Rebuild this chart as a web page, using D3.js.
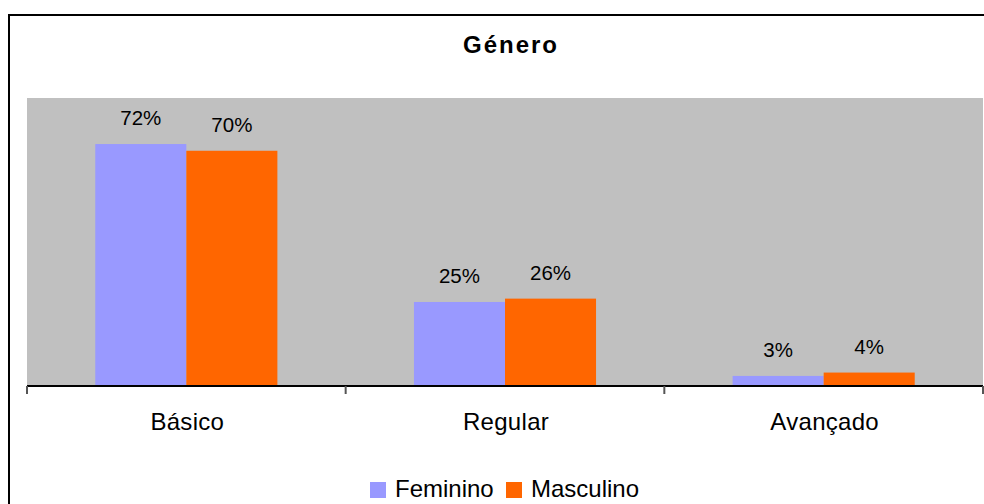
<!DOCTYPE html>
<html>
<head>
<meta charset="utf-8">
<script src="https://cdn.jsdelivr.net/npm/d3@7"></script>
<style>
  html, body { margin: 0; padding: 0; background: #fff; }
  svg { display: block; font-family: "Liberation Sans", Arial, sans-serif; }
</style>
</head>
<body>
<svg id="chart" width="984" height="504"></svg>
<script>
// Nível por género
const categories = ["Básico", "Regular", "Avançado"];
const seriesNames = ["Feminino", "Masculino"];
const feminino = [0.72, 0.25, 0.03];
const masculino = [0.70, 0.26, 0.04];
const colors = ["#9999FF", "#FF6600"];
const titleText = "Género";

const svg = d3.select("#chart");
const W = 984, H = 504;
const plot = { left: 27, right: 983, top: 98, bottom: 386 };

// chart frame
svg.append("rect")
  .attr("x", 9).attr("y", 15)
  .attr("width", W + 10).attr("height", H + 10)
  .attr("fill", "#fff").attr("stroke", "#000").attr("stroke-width", 2);

// plot background
svg.append("rect")
  .attr("x", plot.left).attr("y", plot.top)
  .attr("width", plot.right - plot.left).attr("height", plot.bottom - plot.top)
  .attr("fill", "#C0C0C0");

const x0 = d3.scaleBand().domain(categories).range([plot.left, plot.right]).paddingInner(0).paddingOuter(0);
const bandW = x0.bandwidth();
const groupW = bandW * (2 / 3.5);
const x1 = d3.scaleBand().domain(seriesNames)
  .range([(bandW - groupW) / 2, (bandW + groupW) / 2]).padding(0);
const y = d3.scaleLinear().domain([0, 0.857]).range([plot.bottom, plot.top]);

const rows = categories.map((c, i) => ({ cat: c, vals: [feminino[i], masculino[i]] }));

const groups = svg.selectAll("g.cat").data(rows).join("g")
  .attr("class", "cat")
  .attr("transform", d => `translate(${x0(d.cat)},0)`);

groups.selectAll("rect").data(d => d.vals.map((v, j) => ({ v, s: seriesNames[j], j })))
  .join("rect")
  .attr("x", d => x1(d.s))
  .attr("width", x1.bandwidth())
  .attr("y", d => y(d.v))
  .attr("height", d => plot.bottom - y(d.v))
  .attr("fill", d => colors[d.j]);

groups.selectAll("text.val").data(d => d.vals.map((v, j) => ({ v, s: seriesNames[j] })))
  .join("text")
  .attr("class", "val")
  .attr("x", d => x1(d.s) + x1.bandwidth() / 2)
  .attr("y", d => y(d.v) - 19)
  .attr("text-anchor", "middle")
  .attr("font-size", 20.5)
  .attr("fill", "#000")
  .text(d => d3.format(".0%")(d.v));

// category axis
const axis = d3.axisBottom(x0).tickSize(0).tickPadding(0);
const axG = svg.append("g").attr("transform", `translate(0,${plot.bottom})`).call(axis);
axG.select(".domain").attr("stroke", "#000").attr("stroke-width", 2)
  .attr("d", `M${plot.left},0H${plot.right}`);
axG.selectAll(".tick text")
  .attr("x", 1)
  .attr("y", 44)
  .attr("dy", null)
  .attr("font-size", 24)
  .attr("letter-spacing", 0.3)
  .attr("font-family", "Liberation Sans, Arial, sans-serif")
  .attr("fill", "#000");
// tick marks at category boundaries
const bounds = categories.map(c => x0(c)).concat([plot.right]);
svg.append("g").selectAll("line").data(bounds).join("line")
  .attr("x1", d => d).attr("x2", d => d)
  .attr("y1", plot.bottom).attr("y2", plot.bottom + 8)
  .attr("stroke", "#555").attr("stroke-width", 2);

// title
svg.append("text")
  .attr("x", 511).attr("y", 53)
  .attr("text-anchor", "middle")
  .attr("font-size", 24).attr("font-weight", "bold")
  .attr("letter-spacing", 2)
  .text(titleText);

// legend
const legend = svg.append("g").attr("transform", "translate(370,482)");
const legX = [0, 136];
seriesNames.forEach((s, j) => {
  const g = legend.append("g").attr("transform", `translate(${legX[j]},0)`);
  g.append("rect").attr("width", 16).attr("height", 16).attr("fill", colors[j]);
  g.append("text").attr("x", 25).attr("y", 15).attr("font-size", 24).text(s);
});
</script>
</body>
</html>
